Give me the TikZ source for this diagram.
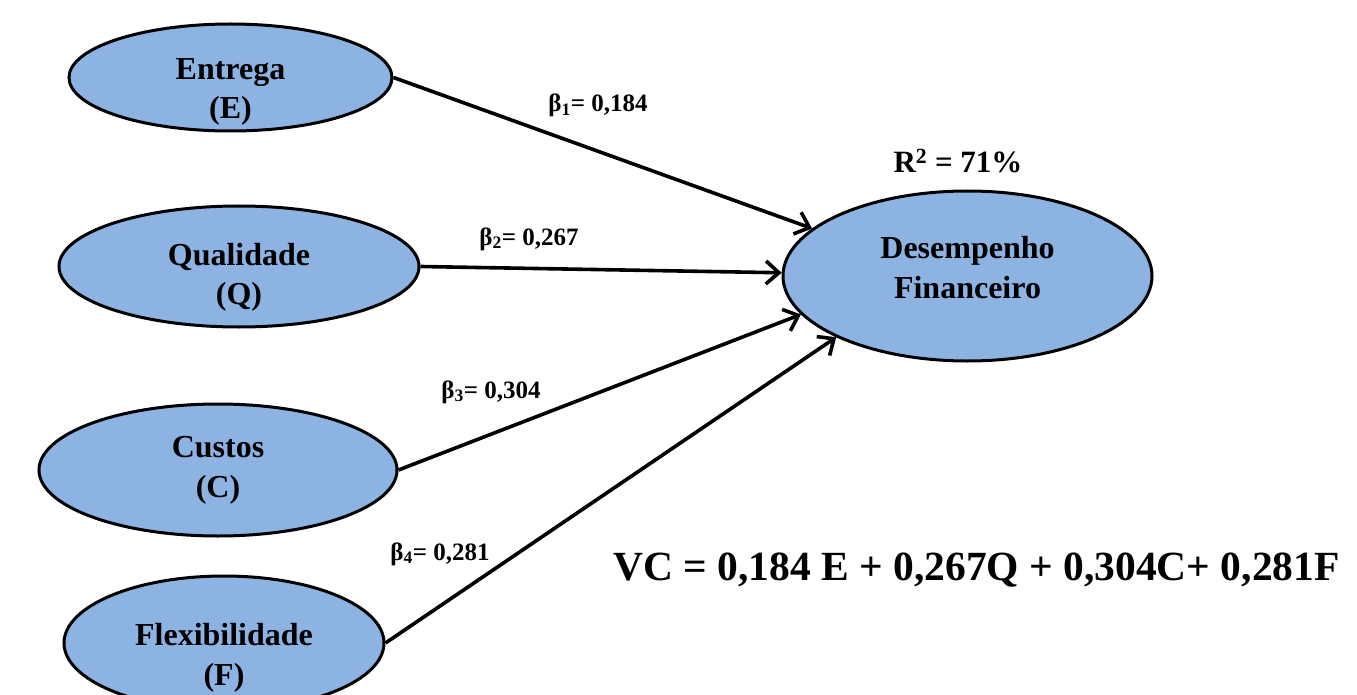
\documentclass[tikz,border=0pt]{standalone}
\usepackage{fontspec}
\setmainfont{Liberation Serif}
\usetikzlibrary{shapes.geometric,arrows.meta}
\definecolor{latblue}{HTML}{8DB3E2}
\newcommand{\fsz}[2]{\fontsize{#1}{#2}\selectfont}
% two centred lines, lowered by #1, taking no room
\newcommand{\twolines}[3]{\raisebox{#1}[0pt][0pt]{\begin{tabular}{@{}c@{}}#2\\#3\end{tabular}}}

\begin{document}
\begin{tikzpicture}[x=1pt,y=-1pt]
  \tikzset{construct/.style={ellipse,draw,line width=3pt,fill=latblue,inner sep=0pt,font=\bfseries\fsz{32}{39.5}},
    effect/.style={line width=3.6pt,-{Straight Barb[length=13pt,width=23pt,line width=3.6pt]}},
    coef/.style={anchor=base,font=\bfseries\fsz{25}{28}}}
  \useasboundingbox (0,0) rectangle (1357,695);
  \node[construct,minimum width=323pt,minimum height=107pt] (ent) at (230.5,77.5) {\twolines{-20pt}{Entrega}{(E)}};
  \node[construct,minimum width=360pt,minimum height=121pt] (qua) at (239,266.5) {\twolines{-17pt}{Qualidade}{(Q)}};
  \node[construct,minimum width=358pt,minimum height=132pt] (cus) at (218,470) {\twolines{-6pt}{Custos}{(C)}};
  \node[construct,minimum width=320pt,minimum height=134pt] (fle) at (224,643) {\twolines{-21pt}{Flexibilidade}{(F)}};
  \node[construct,minimum width=369pt,minimum height=170pt] (des) at (967.5,276) {\twolines{-1pt}{Desempenho}{Financeiro}};
  \node[anchor=base,font=\bfseries\fsz{31}{34}] (r2) at (958,173) {R\textsuperscript{2} = 71\%};
  \draw[effect] (ent.east) -- (des.163);
  \draw[effect] (qua.east) -- (des.179);
  \draw[effect] (cus.east) -- (des.193);
  \draw[effect] (fle.east) -- (des.205);
  \node[coef] (b1) at (598,112) {β\textsubscript{1}= 0,184};
  \node[coef] (b2) at (529,245) {β\textsubscript{2}= 0,267};
  \node[coef] (b3) at (491,398) {β\textsubscript{3}= 0,304};
  \node[coef] (b4) at (440,560) {β\textsubscript{4}= 0,281};
  \node[anchor=base,font=\bfseries\fsz{41.5}{46}] (eq) at (976.5,580) {VC = 0,184 E + 0,267Q + 0,304C+ 0,281F};
\end{tikzpicture}
\end{document}
